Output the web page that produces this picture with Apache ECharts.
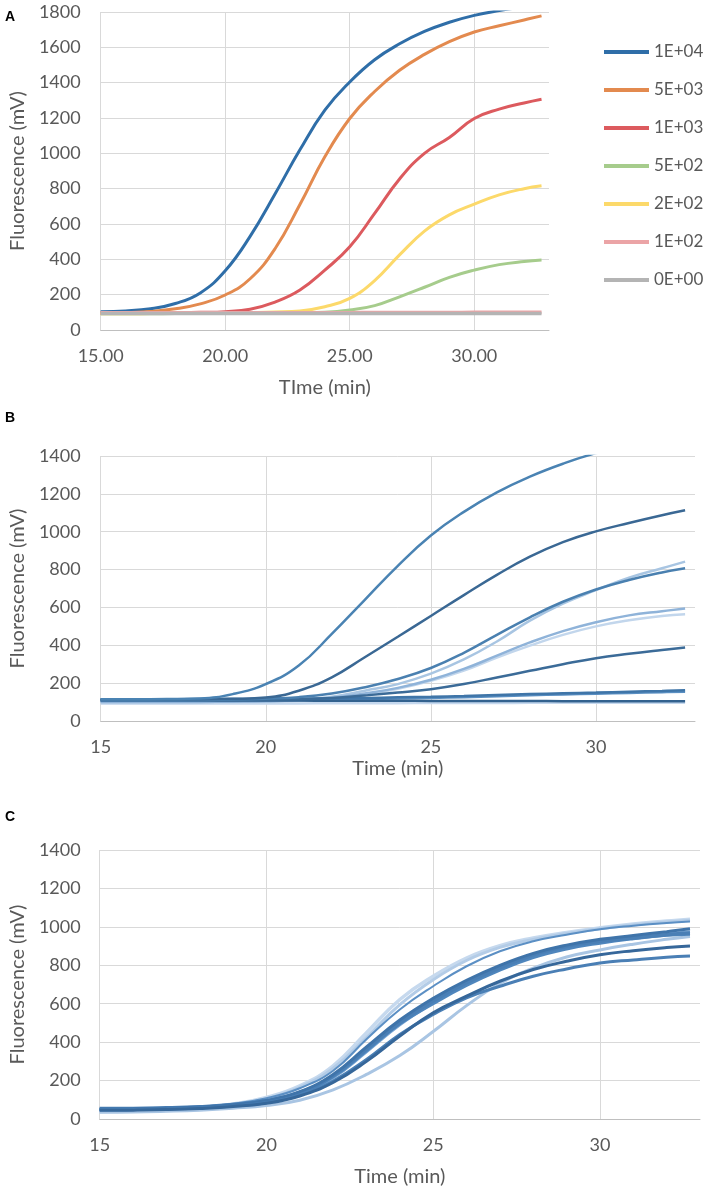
<!DOCTYPE html>
<html>
<head>
<meta charset="utf-8">
<script src="https://cdn.jsdelivr.net/npm/echarts@6/dist/echarts.min.js"></script>
<style>
html,body{margin:0;padding:0;background:#fff;}
#chart{width:708px;height:1195px;}
</style>
</head>
<body>
<div id="chart"></div>
<script>
// ---- data ----
const times = [15,16,17,18,19,20,21,22,23,24,25,26,27,28,29,30,31,32,32.7];
const xTicks = [15, 20, 25, 30];

// Panel A
const namesA = ['1E+04','5E+03','1E+03','5E+02','2E+02','1E+02','0E+00'];
const a1E4 = [104,108,120,150,210,335,530,770,1020,1244,1404,1530,1620,1690,1742,1781,1808,1830,1845];
const a5E3 = [95,98,105,120,148,198,290,460,710,980,1197,1350,1470,1560,1632,1687,1722,1755,1778];
const a1E3 = [95,96,97,98,100,104,118,158,226,339,471,660,855,1000,1090,1197,1250,1285,1306];
const a5E2 = [92,92,92,93,93,94,95,96,97,100,113,138,188,242,298,339,370,388,396];
const a2E2 = [92,92,93,94,95,97,99,102,108,132,179,280,425,560,652,712,765,800,816];
const a1E2 = [97,97,97,97,97,97,98,98,98,98,98,99,99,99,99,100,100,100,100];
const a0E0 = [93,93,93,93,93,93,93,93,93,93,93,93,93,93,93,94,94,94,94];

// Panel B
const b1 = [115,115,116,119,142,195,293,460,640,820,980,1105,1208,1291,1359,1415,1455,1485,1500];
const b2 = [115,115,115,115,117,124,160,231,337,445,555,665,772,868,945,1002,1046,1087,1113];
const b3 = [110,110,110,111,113,118,126,145,178,222,280,360,455,548,630,695,745,785,807];
const b4 = [100,100,100,101,102,105,112,128,160,195,250,325,420,530,620,691,757,807,842];
const b5 = [100,100,100,101,102,104,110,122,145,175,218,275,345,415,475,522,558,580,594];
const b6 = [95,95,95,96,97,100,106,118,140,170,212,266,335,398,455,500,532,555,564];
const b7 = [110,110,110,110,111,112,115,122,135,150,168,195,230,265,300,332,355,375,388];
const b8 = [115,115,115,116,116,117,118,120,122,125,128,132,137,142,146,150,155,159,163];
const b9 = [108,108,108,109,109,110,111,113,116,119,122,126,131,136,140,144,148,152,155];
const b10 = [110,110,109,109,108,108,108,107,107,107,106,106,106,106,105,105,105,105,105];
const b11 = [92,92,92,93,93,93,93,94,94,94,95,95,95,96,96,96,97,97,97];

// Panel C
const c1 = [40,42,48,58,78,112,173,277,449,622,743,838,902,942,971,995,1015,1030,1040];
const c2 = [50,52,56,64,80,108,160,251,415,570,691,795,873,925,959,988,1006,1020,1028];
const c3 = [55,55,58,64,75,95,138,225,363,501,614,709,786,855,899,925,942,959,968];
const c4 = [52,53,56,62,74,96,142,232,375,515,628,722,800,862,905,935,955,975,990];
const c5 = [48,49,52,58,70,90,132,215,350,490,605,700,780,845,893,922,945,963,975];
const c6 = [45,46,49,55,65,82,120,190,300,432,553,639,717,778,821,855,876,892,900];
const c7 = [48,49,52,57,67,85,125,198,310,440,544,631,691,743,781,812,828,842,848];
const c8 = [35,36,40,46,56,70,98,152,232,330,455,590,705,785,843,880,910,935,950];
const c9 = [38,40,45,54,72,105,165,265,425,595,725,825,893,935,965,990,1010,1025,1035];
const c10 = [50,51,54,60,72,92,135,220,355,495,600,695,775,840,885,915,938,956,962];

// ---- styles ----
const FONT = 'Lato, "Open Sans", sans-serif';
const TXT = '#595959';
const GRIDC = '#d9d9d9';
const colorsA = ['#2f6ea8','#e38a4f','#dc5a5e','#a6cc8c','#fcd96a','#eba4a6','#b4b4b4'];

const seriesA = [a1E4,a5E3,a1E3,a5E2,a2E2,a1E2,a0E0];
const seriesB = [
  {v:b11,c:'#c5d8ee'},{v:b6,c:'#c2d6ec'},{v:b4,c:'#a8c5e2'},{v:b5,c:'#8fb3d9'},
  {v:b9,c:'#5a8fc2'},{v:b10,c:'#33628f'},{v:b8,c:'#3f75a8'},{v:b7,c:'#3b6b98'},
  {v:b3,c:'#4a80b0'},{v:b2,c:'#3a6894'},{v:b1,c:'#4a83b3'}
];
const seriesC = [
  {v:c1,c:'#c6d9ee',w:3.5},{v:c9,c:'#b3cce7',w:3},{v:c8,c:'#a9c5e3',w:3},
  {v:c2,c:'#5b8fc4',w:2},{v:c5,c:'#7aa6d3',w:3},{v:c10,c:'#4f86bd',w:3},
  {v:c3,c:'#4a7fb5',w:3.5},{v:c4,c:'#3f74aa',w:3},{v:c7,c:'#4a7fb5',w:3},
  {v:c6,c:'#36679a',w:3}
];

function pairs(vals){ return times.map((t,i)=>[t, vals[i]]); }

function xAxisCfg(gi, fmt, gap){
  return {
    type:'value', gridIndex:gi, min:15, max:33, interval:5,
    name: gi===0 ? 'TIme (min)' : 'Time (min)', nameLocation:'middle', nameGap:gap,
    nameTextStyle:{fontFamily:FONT, fontSize:20, color:TXT},
    axisLine:{show:true, lineStyle:{color:'#bfbfbf', width:1}},
    axisTick:{show:false},
    axisLabel:{fontFamily:FONT, fontSize:18, color:TXT, margin:17, showMaxLabel:false,
      formatter: v => fmt ? v.toFixed(2) : String(v)},
    splitLine:{show:true, lineStyle:{color:[GRIDC,GRIDC,GRIDC,GRIDC,'rgba(0,0,0,0)'], width:1}}
  };
}
function yAxisCfg(gi, max, gap, margin){
  return {
    type:'value', gridIndex:gi, min:0, max:max, interval:200,
    name:'Fluorescence (mV)', nameLocation:'middle', nameGap:gap,
    nameTextStyle:{fontFamily:FONT, fontSize:20, color:TXT},
    axisLine:{show:false}, axisTick:{show:false},
    axisLabel:{fontFamily:FONT, fontSize:18, color:TXT, margin:margin, formatter: v => String(v)},
    splitLine:{show:true, lineStyle:{color:GRIDC, width:1}}
  };
}

const SM = 0.45;
const series = [];
seriesA.forEach((vals,i)=>{
  series.push({
    type:'line', name:namesA[i], xAxisIndex:0, yAxisIndex:0,
    data:pairs(vals), symbol:'none', smooth:SM,
    lineStyle:{color:colorsA[i], width: i>=5 ? 3.5 : 3},
    itemStyle:{color:colorsA[i]}, clip:true, z: 10 + i
  });
});
seriesB.forEach((s,i)=>{
  series.push({
    type:'line', xAxisIndex:1, yAxisIndex:1, data:pairs(s.v), symbol:'none',
    smooth:SM, lineStyle:{color:s.c, width:2.5}, clip:true, z:10+i
  });
});
seriesC.forEach((s,i)=>{
  series.push({
    type:'line', xAxisIndex:2, yAxisIndex:2, data:pairs(s.v), symbol:'none',
    smooth:SM, lineStyle:{color:s.c, width:s.w}, clip:true, z:10+i
  });
});

const chart = echarts.init(document.getElementById('chart'), null, {renderer:'canvas'});
chart.setOption({
  animation:false,
  backgroundColor:'#ffffff',
  grid:[
    {left:93, top:12, width:456, height:318},
    {left:92, top:456, width:603, height:265},
    {left:97, top:850, width:603, height:269}
  ],
  xAxis:[xAxisCfg(0,true,48), xAxisCfg(1,false,38), xAxisCfg(2,false,48)],
  yAxis:[yAxisCfg(0,1800,68,20), yAxisCfg(1,1400,68,20), yAxisCfg(2,1400,71,19)],
  legend:{
    data:namesA, orient:'vertical', left:604, top:42, padding:0,
    icon:'rect', itemWidth:45, itemHeight:4, itemGap:18,
    textStyle:{fontFamily:FONT, fontSize:17, color:TXT, lineHeight:20}
  },
  graphic:[
    {type:'text', left:5, top:10, style:{text:'A', font:'bold 14px "Liberation Sans", Arial, sans-serif', fill:'#000'}},
    {type:'text', left:5, top:411, style:{text:'B', font:'bold 14px "Liberation Sans", Arial, sans-serif', fill:'#000'}},
    {type:'text', left:5, top:810, style:{text:'C', font:'bold 14px "Liberation Sans", Arial, sans-serif', fill:'#000'}}
  ],
  series: series
});
</script>
</body>
</html>
